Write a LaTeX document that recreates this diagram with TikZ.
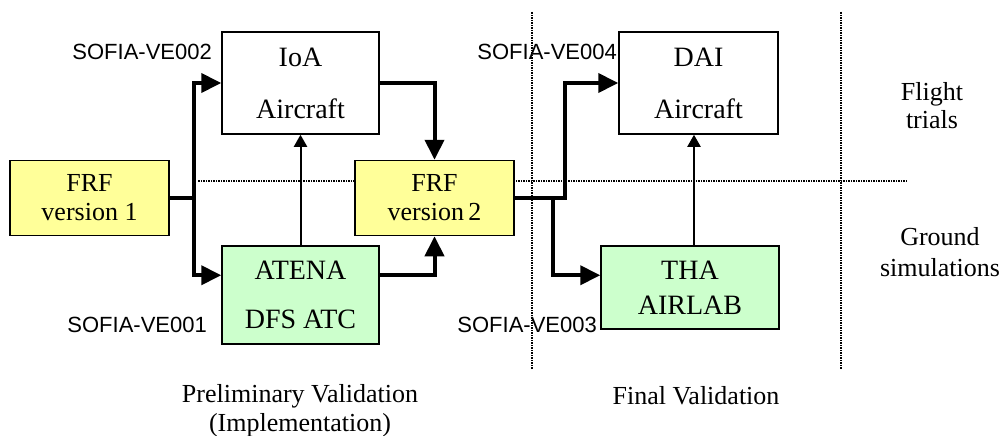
\documentclass[tikz,border=0pt]{standalone}
\usepackage{fontspec}
\setmainfont{Liberation Serif}
\setsansfont{Liberation Sans}
\usepackage{xcolor}
\usetikzlibrary{arrows.meta, positioning, backgrounds}
\definecolor{frfyellow}{RGB}{255,255,153}
\definecolor{simgreen}{RGB}{204,255,204}

\begin{document}
\begin{tikzpicture}[
    x=1pt, y=-1pt,
    every node/.style={inner sep=0pt},
    plainbox/.style={draw, line width=1.5pt, fill=white, align=center},
    frfbox/.style={plainbox, fill=frfyellow, font=\fontsize{26}{29}\selectfont},
    simbox/.style={plainbox, fill=simgreen},
    veclabel/.style={font=\sffamily\fontsize{22}{26}\selectfont, anchor=east},
    sidelabel/.style={font=\fontsize{26}{29}\selectfont, align=center},
    bigarr/.style={-{Triangle[length=20pt, width=19pt]}, line width=4pt},
    thinarr/.style={-{Triangle[length=12pt, width=13pt]}, line width=2pt},
    feed/.style={line width=4pt},
    divider/.style={line width=1.2pt, dash pattern=on 2pt off 1pt on 1pt off 1pt},
  ]
  \useasboundingbox (0,0) rectangle (1004,436);

  \draw[divider] (198,181) -- (908,181);
  \draw[divider, line width=2pt] (532,12) -- (532,370);
  \draw[divider, line width=2pt] (841,12) -- (841,370);

  \node[frfbox, minimum width=159, minimum height=75] (frf1) at (89.5,198) {FRF\\version 1};
  \node[plainbox, minimum width=157, minimum height=102,
        font=\fontsize{28}{52}\selectfont] (ioa) at (300.5,83) {IoA\\Aircraft};
  \node[simbox, minimum width=157, minimum height=98,
        font=\fontsize{28}{49}\selectfont] (atena) at (300.5,295) {ATENA\\DFS ATC};
  \node[frfbox, minimum width=159, minimum height=75] (frf2) at (434.5,198) {FRF\\version\,2};
  \node[plainbox, minimum width=159, minimum height=102,
        font=\fontsize{28}{52}\selectfont] (dai) at (698.5,83) {DAI\\Aircraft};
  \node[simbox, minimum width=178, minimum height=83,
        font=\fontsize{28}{35}\selectfont] (tha) at (690,287.5) {THA\\AIRLAB};

  \coordinate (j1) at (194,198);
  \coordinate (j2) at (553,198);
  \coordinate (j3) at (565,198);

  \draw[feed] (frf1.east) -- (j1);
  \draw[bigarr] (j1) |- (ioa.west);
  \draw[bigarr] (j1) |- ([yshift=-30pt]atena.north west);
  \draw[bigarr] (ioa.east) -| (frf2.north);
  \draw[bigarr] ([yshift=-30pt]atena.north east) -| (frf2.south);
  \draw[thinarr] (atena.north) -- (ioa.south);

  \draw[bigarr] (frf2.east) -- (j3) |- (dai.west);
  \draw[bigarr] (j2) |- ([yshift=-30pt]tha.north west);
  \draw[thinarr] ([xshift=4pt]tha.north) -- ([xshift=4pt]tha.north |- dai.south);

  \node[veclabel] (ve002) at (212,52) {SOFIA-VE002};
  \node[veclabel] (ve001) at (207,325) {SOFIA-VE001};
  \node[veclabel] (ve004) at (617,52) {SOFIA-VE004};
  \node[veclabel] (ve003) at (597,325) {SOFIA-VE003};

  \node[sidelabel, font=\fontsize{26}{28}\selectfont] (flight) at (932,106) {Flight\\trials};
  \node[sidelabel, font=\fontsize{26}{31}\selectfont] (ground) at (940,252) {Ground\\simulations};
  \node[sidelabel] (prelim) at (300,410.5) {Preliminary Validation\\(Implementation)};
  \node[sidelabel] (final) at (696,396) {Final Validation};
\end{tikzpicture}
\end{document}
